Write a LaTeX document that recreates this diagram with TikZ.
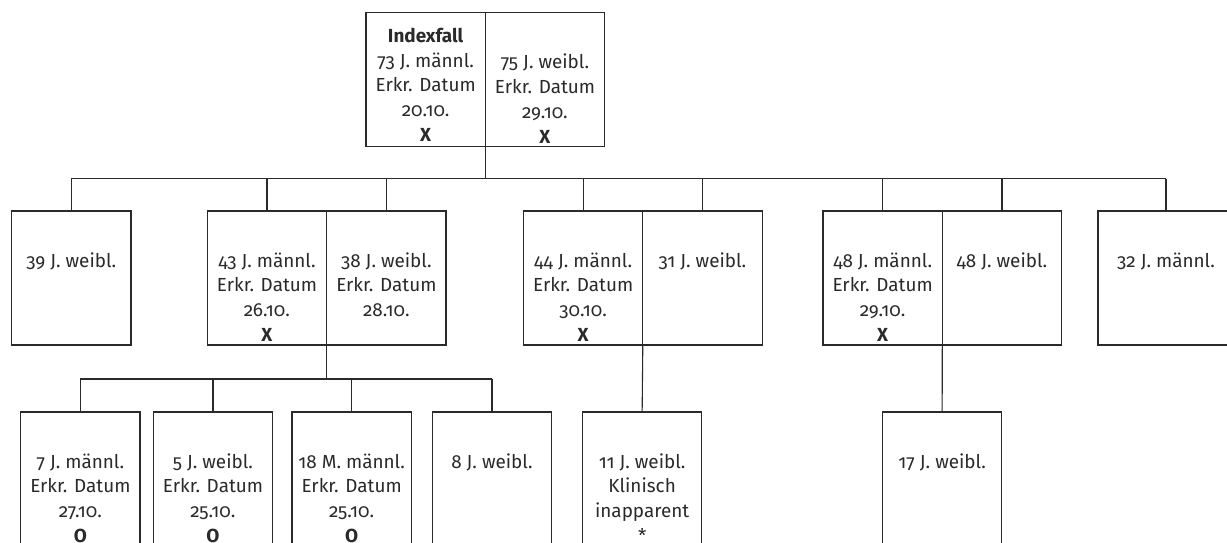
\documentclass[tikz,border=0pt]{standalone}
\usepackage{fontspec}
\setmainfont{Fira Sans}[Numbers=OldStyle]
\definecolor{ink}{HTML}{2A2A2A}
\begin{document}
\begin{tikzpicture}[x=1pt,y=-1pt,
  box/.style={draw=ink,line width=1.1pt,rectangle,inner sep=0pt,outer sep=0pt,
    minimum width=119.3pt,minimum height=134pt,anchor=north west},
  txt/.style={font=\fontsize{18.9}{24.8}\selectfont,text=ink,align=center,inner sep=0pt,anchor=north},
  con/.style={draw=ink,line width=1.1pt}]
\useasboundingbox (0,0) rectangle (1227,542);
\clip (0,0) rectangle (1227,542);
% top
\node[box] (T1) at (366,12.7) {};
\node[box] (T2) at (485.3,12.7) {};
% row 2
\node[box] (B1) at (11.7,211) {};
\node[box] (B2L) at (207.3,211) {};
\node[box] (B2R) at (326.7,211) {};
\node[box] (B3L) at (523.5,211) {};
\node[box] (B3R) at (642.8,211) {};
\node[box] (B4L) at (823,211) {};
\node[box] (B4R) at (942.3,211) {};
\node[box,minimum width=136pt] (B5) at (1098,211) {};
% row 3
\node[box] (C1) at (20.7,412) {};
\node[box] (C2) at (153.3,412) {};
\node[box] (C3) at (292,412) {};
\node[box] (C4) at (432.3,412) {};
\node[box] (E) at (582.5,412) {};
\node[box] (F) at (882.5,412) {};
% buses
\coordinate (bus1) at (0,178.5);
\coordinate (bus2) at (0,379);
\draw[con] (T1.south east) -- (T1.south east |- bus1);
\draw[con] (B1.north |- bus1) -- (B5.north |- bus1);
\foreach \n in {B1,B2L,B2R,B3L,B3R,B4L,B4R,B5}
  \draw[con] (\n.north) -- (\n.north |- bus1);
\draw[con] (B2L.south east) -- (B2L.south east |- bus2);
\draw[con] (C1.north |- bus2) -- (C4.north |- bus2);
\foreach \n in {C1,C2,C3,C4}
  \draw[con] (\n.north) -- (\n.north |- bus2);
\draw[con] (B3L.south east) -- (E.north);
\draw[con] (B4L.south east) -- (F.north);
% texts
\node[txt] (tT1) at ([yshift=-12pt]T1.north) {\strut\textbf{Indexfall}\\73 J. männl.\\Erkr. Datum\\20.10.\\\textbf{X}};
\node[txt] (tT2) at ([yshift=-38.5pt]T2.north) {\strut 75 J. weibl.\\Erkr. Datum\\29.10.\\\textbf{X}};
\node[txt] (tB1) at ([yshift=-38.5pt]B1.north) {\strut 39 J. weibl.};
\node[txt] (tB2L) at ([yshift=-38.5pt]B2L.north) {\strut 43 J. männl.\\Erkr. Datum\\26.10.\\\textbf{X}};
\node[txt] (tB2R) at ([yshift=-38.5pt]B2R.north) {\strut 38 J. weibl.\\Erkr. Datum\\28.10.};
\node[txt] (tB3L) at ([yshift=-38.5pt]B3L.north) {\strut 44 J. männl.\\Erkr. Datum\\30.10.\\\textbf{X}};
\node[txt] (tB3R) at ([yshift=-38.5pt]B3R.north) {\strut 31 J. weibl.};
\node[txt] (tB4L) at ([yshift=-38.5pt]B4L.north) {\strut 48 J. männl.\\Erkr. Datum\\29.10.\\\textbf{X}};
\node[txt] (tB4R) at ([yshift=-38.5pt]B4R.north) {\strut 48 J. weibl.};
\node[txt] (tB5) at ([yshift=-38.5pt]B5.north) {\strut 32 J. männl.};
\node[txt] (tC1) at ([yshift=-38.5pt]C1.north) {\strut 7 J. männl.\\Erkr. Datum\\27.10.\\\textbf{O}};
\node[txt] (tC2) at ([yshift=-38.5pt]C2.north) {\strut 5 J. weibl.\\Erkr. Datum\\25.10.\\\textbf{O}};
\node[txt] (tC3) at ([yshift=-38.5pt]C3.north) {\strut 18 M. männl.\\Erkr. Datum\\25.10.\\\textbf{O}};
\node[txt] (tC4) at ([yshift=-38.5pt]C4.north) {\strut 8 J. weibl.};
\node[txt] (tE) at ([yshift=-38.5pt]E.north) {\strut 11 J. weibl.\\Klinisch\\inapparent\\*};
\node[txt] (tF) at ([yshift=-38.5pt]F.north) {\strut 17 J. weibl.};
\end{tikzpicture}
\end{document}
